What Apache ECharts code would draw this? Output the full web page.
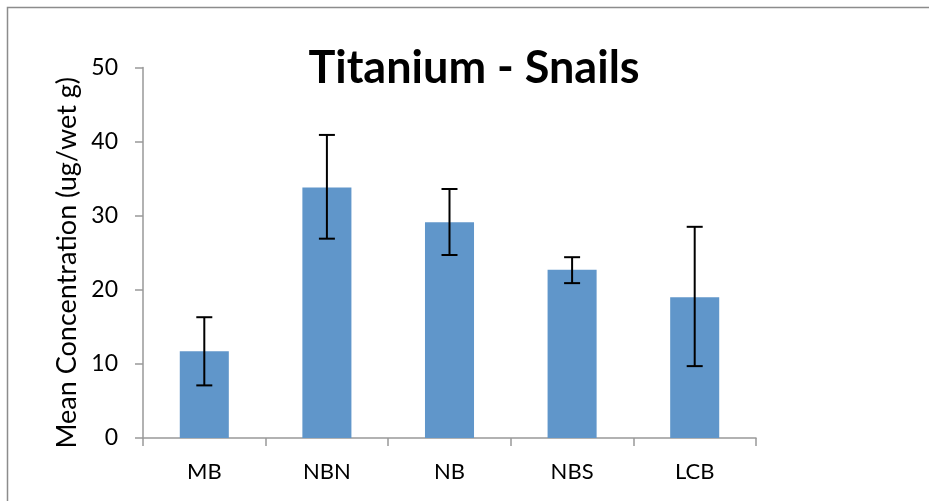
<!DOCTYPE html>
<html>
<head>
<meta charset="utf-8">
<script src="https://cdn.jsdelivr.net/npm/echarts@6/dist/echarts.min.js"></script>
<style>html,body{margin:0;padding:0;background:#fff;}#c{width:929px;height:501px;}</style>
</head>
<body>
<div id="c"></div>
<script>
const categories = ['MB', 'NBN', 'NB', 'NBS', 'LCB'];
const means = [11.7, 33.8, 29.1, 22.7, 19.0];
const errHigh = [16.3, 40.9, 33.6, 24.4, 28.5];
const errLow = [7.1, 26.9, 24.7, 20.9, 9.7];
const yTicks = [0, 10, 20, 30, 40, 50];

const FONT = 'Lato';
const chart = echarts.init(document.getElementById('c'), null, {renderer: 'canvas'});
const errData = categories.map((c, i) => [i, errLow[i], errHigh[i]]);

chart.setOption({
  backgroundColor: '#fff',
  animation: false,
  title: {
    text: 'Titanium - Snails',
    left: 469, top: 41, textAlign: 'center',
    textStyle: {fontFamily: FONT, fontWeight: 'bold', fontSize: 45, color: '#000'}
  },
  graphic: [{
    type: 'polyline', silent: true,
    shape: {points: [[7.5, 501], [7.5, 7.5], [929, 7.5]]},
    style: {stroke: '#8c8c8c', lineWidth: 1.5, fill: null}
  }],
  grid: {left: 143, right: 173, top: 67.5, bottom: 63, containLabel: false},
  xAxis: {
    type: 'category', data: categories,
    axisLine: {lineStyle: {color: '#999', width: 1.5}},
    axisTick: {show: true, length: 8, alignWithLabel: false, lineStyle: {color: '#999', width: 1.5}},
    axisLabel: {margin: 23, fontFamily: FONT, fontSize: 22, color: '#000'}
  },
  yAxis: {
    type: 'value', min: yTicks[0], max: yTicks[yTicks.length - 1], interval: 10,
    name: 'Mean Concentration (ug/wet g)', nameLocation: 'middle', nameGap: 62,
    nameTextStyle: {fontFamily: FONT, fontSize: 27, color: '#000', padding: [0, 20, 0, 0]},
    splitLine: {show: false},
    axisLine: {show: true, lineStyle: {color: '#999', width: 1.5}},
    axisTick: {show: true, length: 8, lineStyle: {color: '#999', width: 1.5}},
    axisLabel: {margin: 25, fontFamily: FONT, fontSize: 23, color: '#000'}
  },
  series: [{
    type: 'bar', data: means, barWidth: '40%',
    itemStyle: {color: '#6096ca'}
  }, {
    type: 'custom', data: errData,
    renderItem: function (params, api) {
      const x = api.value(0);
      const lo = api.coord([x, api.value(1)]);
      const hi = api.coord([x, api.value(2)]);
      const hw = 8;
      const st = {stroke: '#000', lineWidth: 2};
      return {type: 'group', children: [
        {type: 'line', shape: {x1: lo[0], y1: lo[1], x2: hi[0], y2: hi[1]}, style: st},
        {type: 'line', shape: {x1: hi[0] - hw, y1: hi[1], x2: hi[0] + hw, y2: hi[1]}, style: st},
        {type: 'line', shape: {x1: lo[0] - hw, y1: lo[1], x2: lo[0] + hw, y2: lo[1]}, style: st}
      ]};
    },
    z: 10
  }]
});
</script>
</body>
</html>
